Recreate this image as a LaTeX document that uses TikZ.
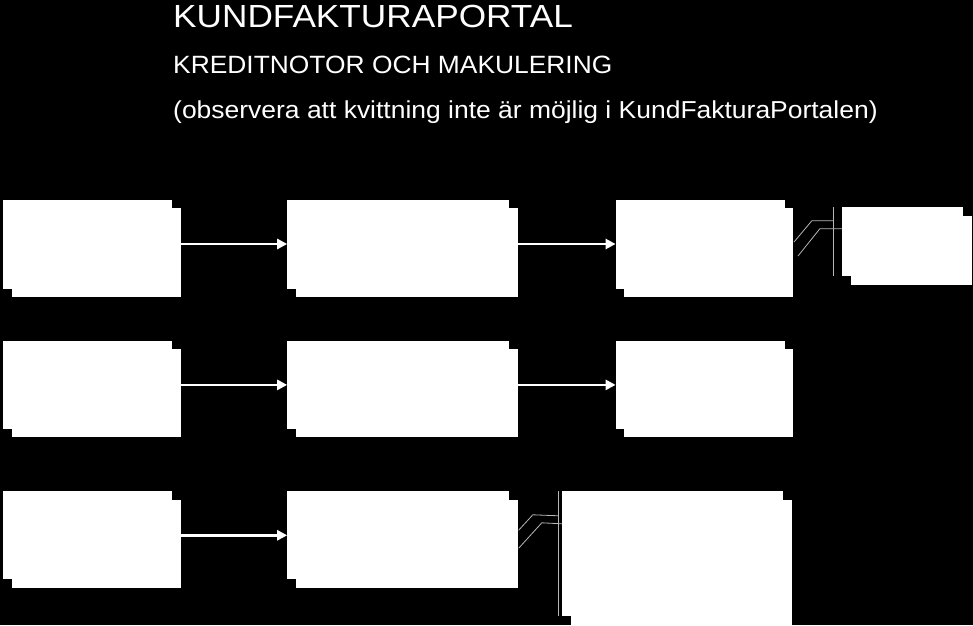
\documentclass[tikz,border=0pt]{standalone}
\usepackage{fontspec}
\setmainfont{Liberation Sans}
\usetikzlibrary{arrows.meta, positioning, shadows}

\begin{document}
\begin{tikzpicture}[x=1pt, y=1pt,
    card/.style={rectangle, fill=white, inner sep=0pt, minimum height=88pt,
      drop shadow={shadow xshift=8.5pt, shadow yshift=-8.5pt, fill=white, opacity=1}},
    narrowcard/.style={card, minimum width=169pt},
    widecard/.style={card, minimum width=222pt},
    heading/.style={text=white, anchor=base west, inner sep=0pt, transform shape},
    flow/.style={draw=white, line width=2.5pt, -{Triangle[length=10pt,width=10pt]}},
    lead/.style={draw=white!72!black, line width=0.8pt}
 ]

\useasboundingbox (0,0) rectangle (973,625);
\fill[black] (0,0) rectangle (973,625);

\node[heading, xscale=1.10, font=\fontsize{32}{38}\selectfont] (Title) at (173,597) {KUNDFAKTURAPORTAL};
\node[heading, xscale=1.055, font=\fontsize{25}{30}\selectfont] (Subtitle) at (173,551) {KREDITNOTOR OCH MAKULERING};
\node[heading, xscale=1.08, font=\fontsize{24.5}{29}\selectfont] (Note) at (173,506) {(observera att kvittning inte är möjlig i KundFakturaPortalen)};

\node[narrowcard, minimum height=89pt] (KreditA) at (87.5,381) {};
\node[widecard, minimum height=89pt, right=115pt of KreditA] (KreditB) {};
\node[narrowcard, minimum height=89pt, right=106pt of KreditB] (KreditC) {};
\node[card, minimum width=121pt, minimum height=69pt] (KreditInfo) at (902.5,383.5) {};
\draw[flow] (KreditA) -- (KreditB);
\draw[flow] (KreditB) -- (KreditC);

\node[narrowcard, below=52pt of KreditA] (MakA) {};
\node[widecard, right=115pt of MakA] (MakB) {};
\node[narrowcard, right=106pt of MakB] (MakC) {};
\draw[flow] (MakA) -- (MakB);
\draw[flow] (MakB) -- (MakC);

\node[narrowcard, below=62pt of MakA] (KvittA) {};
\node[widecard, right=115pt of KvittA] (KvittB) {};
\node[card, minimum width=221pt, minimum height=125pt] (KvittInfo) at (672.5,71.5) {};
\draw[flow] (KvittA) -- (KvittB);

\coordinate (InfoBarTop) at ([xshift=-8pt]KreditInfo.north west);
\coordinate (InfoBarBot) at ([xshift=-8pt]KreditInfo.south west);
\coordinate (InfoLeg) at ([shift={(-8pt,-14pt)}]KreditInfo.north west);
\coordinate (InfoLegShade) at ([yshift=-22pt]KreditInfo.north west);
\draw[lead] (InfoBarTop) -- (InfoBarBot);
\draw[lead] (InfoLeg) -- ++(-22pt,0) -- ([shift={(9pt,2pt)}]KreditC.east);
\draw[lead] (InfoLegShade) -- ++(-22pt,0) -- ([shift={(13pt,-12pt)}]KreditC.east);

\coordinate (KvittBarTop) at ([xshift=-3pt]KvittInfo.north west);
\coordinate (KvittBarBot) at ([xshift=-3pt]KvittInfo.south west);
\coordinate (KvittLeg) at ([shift={(-3pt,-25pt)}]KvittInfo.north west);
\coordinate (KvittLegShade) at ([yshift=-33pt]KvittInfo.north west);
\draw[lead] (KvittBarTop) -- (KvittBarBot);
\draw[lead] (KvittLeg) -- ++(-26pt,1pt) -- ([shift={(9pt,5pt)}]KvittB.east);
\draw[lead] (KvittLegShade) -- ++(-20pt,1pt) -- ([shift={(9pt,-13pt)}]KvittB.east);

\end{tikzpicture}
\end{document}
